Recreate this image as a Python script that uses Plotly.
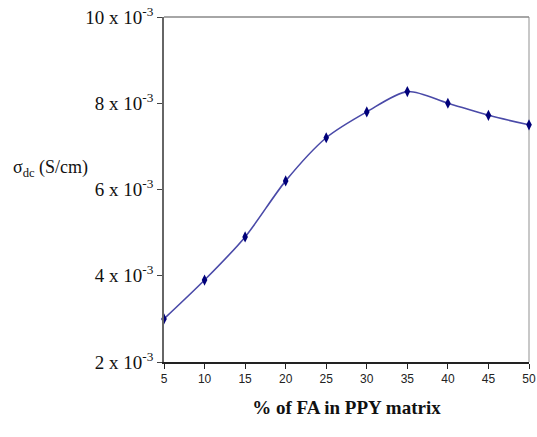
import plotly.graph_objects as go

fa_percent = [5, 10, 15, 20, 25, 30, 35, 40, 45, 50]
sigma_dc = [3.0e-3, 3.9e-3, 4.9e-3, 6.2e-3, 7.2e-3, 7.8e-3, 8.27e-3, 8.0e-3, 7.72e-3, 7.5e-3]
y_tick_vals = [2e-3, 4e-3, 6e-3, 8e-3, 10e-3]
y_tick_text = ["2 x 10<sup>-3</sup>", "4 x 10<sup>-3</sup>", "6 x 10<sup>-3</sup>",
               "8 x 10<sup>-3</sup>", "10 x 10<sup>-3</sup>"]
x_tick_vals = [5, 10, 15, 20, 25, 30, 35, 40, 45, 50]

fig = go.Figure()
fig.add_trace(go.Scatter(
    x=fa_percent, y=sigma_dc, mode="lines+markers",
    line=dict(color="#4a4aa8", width=1.6, shape="spline", smoothing=0.8),
    marker=dict(symbol="diamond-tall", size=8, color="#00007a"),
    showlegend=False, cliponaxis=False,
))

serif = "Liberation Serif, Times New Roman, serif"
fig.update_layout(
    width=537, height=437,
    margin=dict(l=164, r=8, t=17, b=75, autoexpand=False),
    paper_bgcolor="white", plot_bgcolor="white",
    xaxis=dict(range=[5, 50], tickvals=x_tick_vals, showgrid=False, zeroline=False,
               automargin=False,
               showline=True, linecolor="#222", linewidth=1.5,
               ticks="outside", ticklen=5, tickcolor="#222", ticklabeloverflow="allow",
               tickfont=dict(family="Liberation Sans Narrow, Arial Narrow, sans-serif", size=12, color="#222"),
               title=dict(text="<b>% of FA in PPY matrix</b>", font=dict(family=serif, size=19, color="#111"), standoff=16)),
    yaxis=dict(range=[2e-3, 10e-3], tickvals=y_tick_vals, ticktext=y_tick_text,
               showgrid=False, zeroline=False, automargin=False,
               showline=True, linecolor="#666", linewidth=1.5,
               ticks="outside", ticklen=5, tickcolor="#444",
               tickfont=dict(family=serif, size=19, color="#111")),
    shapes=[
        dict(type="line", xref="paper", yref="paper", x0=0, x1=1, y0=1, y1=1,
             line=dict(color="#888", width=1.5)),
        dict(type="line", xref="paper", yref="paper", x0=1, x1=1, y0=0, y1=1,
             line=dict(color="#c8c8c8", width=2), layer="below"),
    ],
    annotations=[
        dict(text="σ<sub>dc</sub> (S/cm)", xref="paper", yref="paper",
             x=-0.31, y=0.56, xanchor="center", yanchor="middle", showarrow=False,
             font=dict(family=serif, size=18, color="#111")),
    ],
)
fig.write_html("out.html", config={"displayModeBar": False},
               post_script="document.body.style.margin='0';document.body.style.padding='0';")
